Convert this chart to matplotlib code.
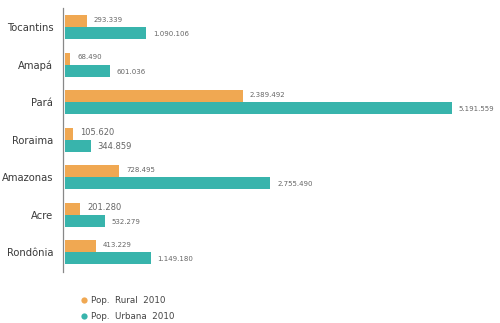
import matplotlib
matplotlib.use("Agg")
import matplotlib.pyplot as plt
from matplotlib.lines import Line2D

states = ["Tocantins", "Amapá", "Pará", "Roraima", "Amazonas", "Acre", "Rondônia"]
rural = [293339, 68490, 2389492, 105620, 728495, 201280, 413229]
urbana = [1090106, 601036, 5191559, 344859, 2755490, 532279, 1149180]
rural_labels = ["293.339", "68.490", "2.389.492", "105.620", "728.495", "201.280", "413.229"]
urbana_labels = ["1.090.106", "601.036", "5.191.559", "344.859", "2.755.490", "532.279", "1.149.180"]
series_names = ["Pop.  Rural  2010", "Pop.  Urbana  2010"]

c_rural = "#F0A852"
c_urb = "#38B4AC"

fig = plt.figure(figsize=(5.0, 3.23), dpi=100)
ax = fig.add_axes([63/500, 51/323, 437/500, 264/323])

n = len(states)
ypos = [n - 1 - i for i in range(n)]
h = 0.32
ax.barh([y + h/2 for y in ypos], rural, height=h, color=c_rural, left=0)
ax.barh([y - h/2 for y in ypos], urbana, height=h, color=c_urb, left=0)

scale = 7.45e-5
ax.set_xlim(-0.027e6, 437/scale - 0.027e6)
ax.set_ylim(-0.533, 6.507)

big = {"105.620", "344.859", "201.280"}
for y, v, lab in zip(ypos, rural, rural_labels):
    ax.annotate(lab, (v, y + h/2), xytext=(5, 1), textcoords="offset points",
                va="center", ha="left", fontsize=6.0 if lab in big else 5.0, color="#666666")
for y, v, lab in zip(ypos, urbana, urbana_labels):
    ax.annotate(lab, (v, y - h/2), xytext=(5, -1), textcoords="offset points",
                va="center", ha="left", fontsize=6.0 if lab in big else 5.0, color="#666666")

ax.set_yticks(ypos)
ax.set_yticklabels(states, fontsize=7.2, color="#3a3a3a")
ax.tick_params(axis="y", length=0, pad=7)
ax.set_xticks([])
for s in ["top", "right", "bottom"]:
    ax.spines[s].set_visible(False)
ax.spines["left"].set_color("#888888")
ax.spines["left"].set_linewidth(0.9)

handles = [Line2D([], [], marker="o", linestyle="none", markersize=4.5, color=c_rural, markeredgewidth=0),
           Line2D([], [], marker="o", linestyle="none", markersize=4.5, color=c_urb, markeredgewidth=0)]
leg = fig.legend(handles, series_names, loc="upper left", bbox_to_anchor=(74/500, 1 - 292/323),
                 frameon=False, fontsize=6.3, handletextpad=0.2, labelspacing=0.8, handlelength=1.2,
                 borderpad=0)
for t in leg.get_texts():
    t.set_color("#444444")

fig.savefig("out.png", dpi=100, facecolor="white")
